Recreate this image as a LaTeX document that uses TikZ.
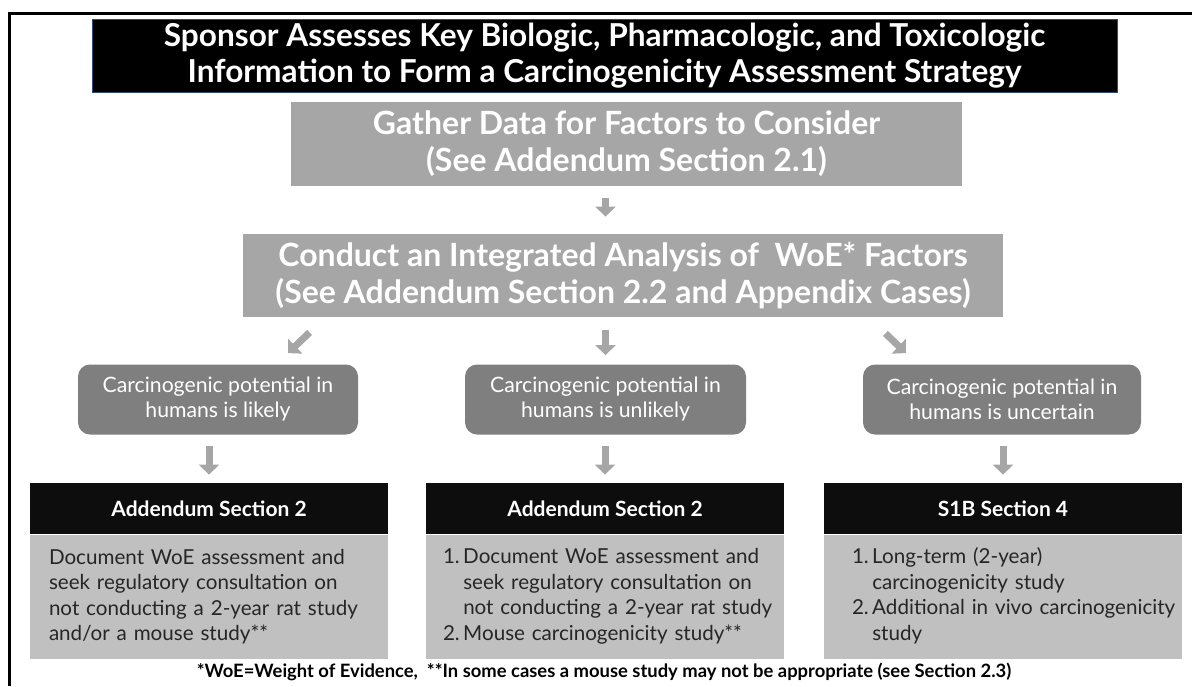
\documentclass[tikz,border=0pt]{standalone}
\usepackage{fontspec}
\setmainfont{Lato}
\usetikzlibrary{arrows.meta,positioning}
\definecolor{boxgray}{HTML}{A6A6A6}
\definecolor{roundgray}{HTML}{7F7F7F}
\definecolor{bodygray}{HTML}{C0C0C0}
\definecolor{bodytext}{HTML}{262626}
\definecolor{titleedge}{HTML}{2F4A78}

\begin{document}
\begin{tikzpicture}[x=0.5pt,y=-0.5pt,
    titlebox/.style={fill=black,draw=titleedge,line width=0.5pt,text=white,align=center,
        font=\fontsize{15.8}{18}\selectfont\bfseries,minimum width=512.5pt,minimum height=36.5pt,inner sep=0pt},
    graybox/.style={fill=boxgray,text=white,align=center,
        font=\fontsize{16}{18.5}\selectfont\bfseries,minimum height=42pt,inner sep=0pt},
    roundbox/.style={fill=roundgray,rounded corners=6pt,text=white,align=center,
        font=\fontsize{10.6}{12.5}\selectfont,minimum height=35pt,inner sep=0pt},
    headbox/.style={fill=black!95,text=white,font=\fontsize{10.5}{12}\selectfont\bfseries,
        minimum width=179pt,minimum height=25.5pt,inner sep=0pt},
    bodybox/.style={fill=bodygray,text=bodytext,align=left,font=\fontsize{10.3}{12.75}\selectfont,
        text width=160pt,inner xsep=9.5pt,inner ysep=0pt,minimum height=62pt},
    garrow/.style={draw=boxgray,line width=3.5pt,-{Triangle[width=10pt,length=5pt]}}]
    \useasboundingbox (0,0) rectangle (1192,686);
    \draw[line width=1.5pt] (9,686) -- (9,13) -- (1192,13);

    \node[titlebox] (sponsor) at (604.5,55.5) {Sponsor Assesses Key Biologic, Pharmacologic, and Toxicologic\\Information to Form a Carcinogenicity Assessment Strategy};
    \node[graybox,minimum width=335.5pt] (gather) at (626.5,144) {Gather Data for Factors to Consider\\(See Addendum Section 2.1)};
    \node[graybox,minimum width=380pt,minimum height=41.5pt] (conduct) at (623,275.5) {Conduct an Integrated Analysis of \ WoE* Factors\\(See Addendum Section 2.2 and Appendix Cases)};

    \node[roundbox,minimum width=140pt] (likely) at (218,399.5) {Carcinogenic potential in\\humans is likely};
    \node[roundbox,minimum width=140.5pt] (unlikely) at (605.5,399.5) {Carcinogenic potential in\\humans is unlikely};
    \node[roundbox,minimum width=139pt] (uncertain) at (1002,399.5) {Carcinogenic potential in\\humans is uncertain};

    \node[headbox] (lhead) at (209,508.5) {Addendum Section 2};
    \node[headbox] (mhead) at (605,508.5) {Addendum Section 2};
    \node[headbox] (rhead) at (1003,508.5) {S1B Section 4};
    \node[bodybox,below=0pt of lhead] (lbody) {Document WoE assessment and\\seek regulatory consultation on\\not conducting a 2-year rat study\\and/or a mouse study**};
    \node[bodybox,below=0pt of mhead,inner xsep=8.5pt,text width=162pt] (mbody) {\begin{tabular}{@{}l@{\,}l@{}}
        1. & Document WoE assessment and\\
           & seek regulatory consultation on\\
           & not conducting a 2-year rat study\\
        2. & Mouse carcinogenicity study**
        \end{tabular}};
    \node[bodybox,below=0pt of rhead,inner xsep=14pt,text width=151pt] (rbody) {\begin{tabular}{@{}l@{\,}l@{}}
        1. & Long-term (2-year)\\
           & carcinogenicity study\\
        2. & Additional in vivo carcinogenicity\\
           & study
        \end{tabular}};

    \draw[garrow,shorten <=6pt,shorten >=8.5pt] (gather.south -| unlikely.north) -- (conduct.north -| unlikely.north);
    \draw[garrow] ([shift={(67,15)}]conduct.south west) -- ([shift={(70,-11)}]likely.north);
    \draw[garrow,shorten <=6.5pt,shorten >=4.5pt] (conduct.south -| unlikely.north) -- (unlikely.north);
    \draw[garrow] ([shift={(-118,16)}]conduct.south east) -- ([shift={(-96,-11)}]uncertain.north);
    \draw[garrow,shorten <=5.5pt,shorten >=4pt] (likely.south -| lhead.north) -- (lhead.north);
    \draw[garrow,shorten <=5.5pt,shorten >=4pt] (unlikely.south -| mhead.north) -- (mhead.north);
    \draw[garrow,shorten <=5.5pt,shorten >=4pt] (uncertain.south -| rhead.north) -- (rhead.north);

    \node[font=\fontsize{9.2}{11}\selectfont\bfseries] (note) at (604,672) {*WoE=Weight of Evidence, \ **In some cases a mouse study may not be appropriate (see Section 2.3)};
\end{tikzpicture}
\end{document}
